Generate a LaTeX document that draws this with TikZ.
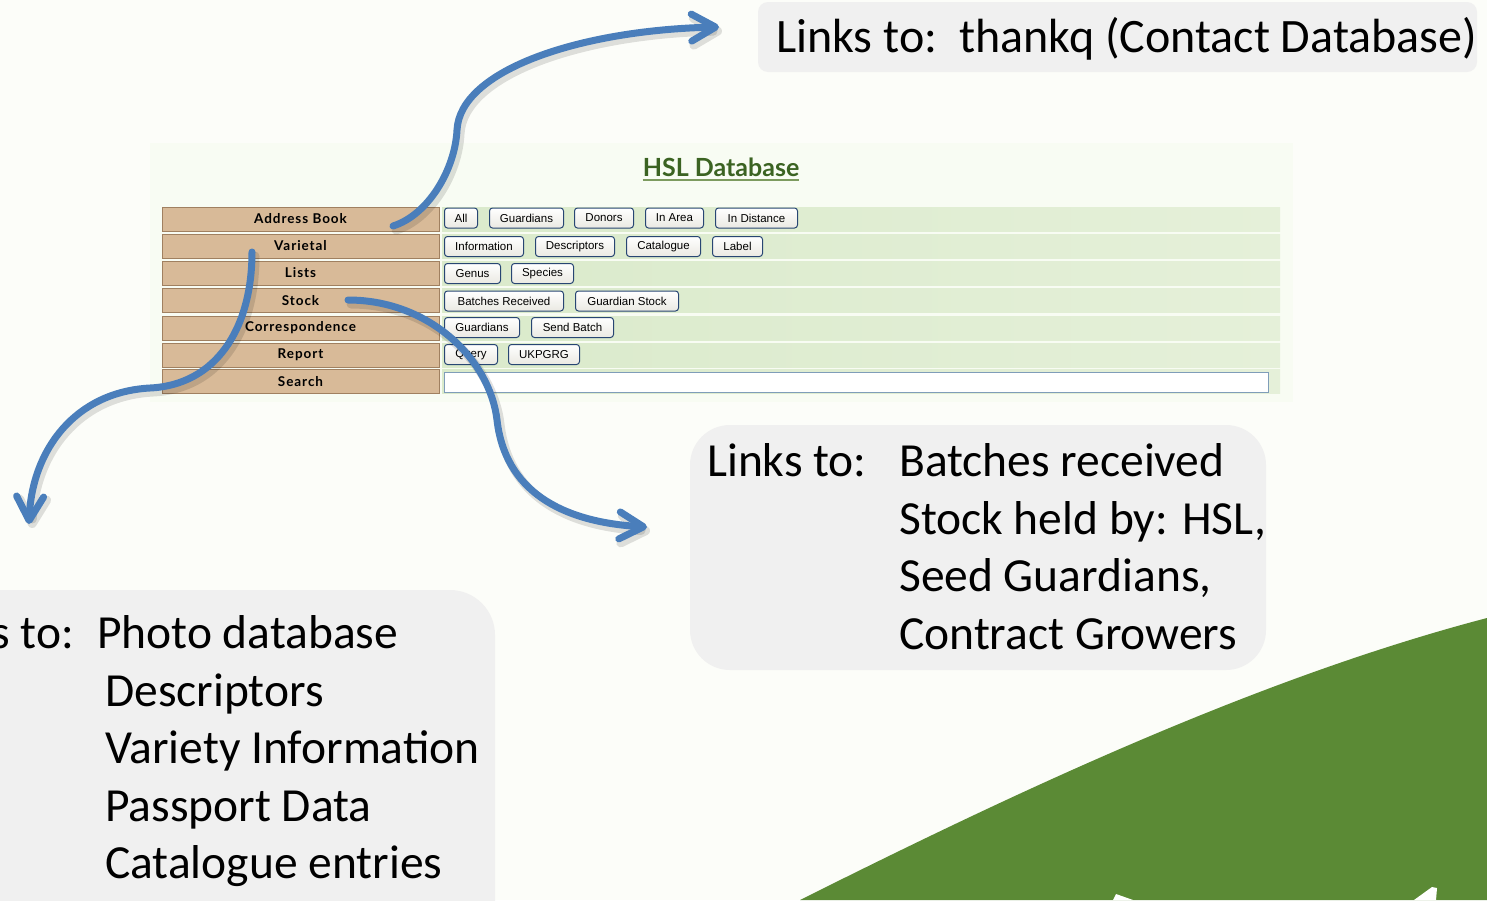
\documentclass[tikz,border=0pt]{standalone}
\usepackage{fontspec}
\setmainfont{Carlito}
\newfontfamily\menufont[LetterSpace=7]{Lato}
\newfontfamily\btnfont{Liberation Sans}
\newfontfamily\titlefont{Lato}
\usetikzlibrary{arrows.meta,calc}
\definecolor{bgc}{RGB}{252,253,249}
\definecolor{shotbg}{RGB}{248,252,243}
\definecolor{boxgray}{RGB}{240,240,240}
\definecolor{menutan}{RGB}{216,186,152}
\definecolor{tanborder}{RGB}{160,128,96}
\definecolor{rowL}{RGB}{218,234,203}
\definecolor{rowR}{RGB}{229,240,217}
\definecolor{btnborder}{RGB}{40,70,115}
\definecolor{btnbot}{RGB}{234,233,226}
\definecolor{fieldborder}{RGB}{127,157,185}
\definecolor{arrowblue}{RGB}{74,126,187}
\definecolor{leaf}{RGB}{91,138,53}
\definecolor{titlegreen}{RGB}{59,99,34}
\definecolor{titleline}{RGB}{125,155,95}
\tikzset{
  menucell/.style={draw=tanborder, line width=1pt, fill=menutan, minimum width=277pt, minimum height=24pt, inner sep=0pt, font=\menufont\bfseries\fontsize{13.5}{13.5}\selectfont},
  rowbar/.style={left color=rowL, right color=rowR, draw=none, minimum width=838pt, minimum height=24pt, inner sep=0pt},
  btn/.style={draw=btnborder, line width=1pt, rounded corners=3pt, top color=white, bottom color=btnbot, minimum height=20pt, minimum width=#1, inner sep=0pt, anchor=west, font=\btnfont\fontsize{11.5}{12}\selectfont},
  field/.style={draw=fieldborder, line width=1pt, fill=white, minimum width=824pt, minimum height=20pt, inner sep=0pt},
  callout/.style={fill=boxgray, draw=none, inner sep=0pt},
  txt/.style={inner sep=0pt, anchor=base west, font=\fontsize{47.5}{57.5}\selectfont},
  bluearrow/.style={draw=arrowblue, line width=7pt, line cap=round, -{Straight Barb[length=24pt,width=27pt,round]}},
  arrowshadow/.style={draw=black, opacity=0.12, line width=9pt, line cap=round, -{Straight Barb[length=24pt,width=27pt,round]}, transform canvas={shift={(3pt,-4pt)}}}
}
\begin{document}
\begin{tikzpicture}[x=1pt,y=-1pt]
\useasboundingbox (0,0) rectangle (1487,900);
\clip (0,0) rectangle (1487,900);
\fill[bgc] (0,0) rectangle (1487,900);
% green leaf shape
\fill[leaf] (800,900) .. controls (1000,800) and (1250,680) .. (1487,618) -- (1487,900) -- cycle;
\fill[white] (1113,900) -- (1116,894) -- (1133,900) -- cycle;
\fill[white] (1414,900) -- (1432,887) -- (1437,888) -- (1436,900) -- cycle;
% screenshot background
\fill[shotbg] (150,143) rectangle (1293,402);
% title
\node[inner sep=0pt, anchor=base, text=titlegreen, font=\titlefont\bfseries\fontsize{25}{25}\selectfont] (hsl) at (721,176) {HSL Database};
\draw[titleline, line width=1.5pt] ($(hsl.base west)+(0,4)$) -- ($(hsl.base east)+(0,4)$);
% menu rows
\foreach \nm/\lab/\yy in {addr/Address Book/219, vari/Varietal/246, lists/Lists/273, stock/Stock/300.5, corr/Correspondence/328, rep/Report/355, srch/Search/381.5}{
  \node[menucell] (\nm) at (300.5,\yy) {\lab};
  \node[rowbar] (\nm bar) at (861,\yy) {};
}
% buttons row 1
\node[btn=33pt] (bAll) at (444,218) {All};
\node[btn=74pt] (bGuard) at (489,218) {Guardians};
\node[btn=59pt] (bDonors) at (574,218) {Donors};
\node[btn=58pt] (bArea) at (645,218) {In Area};
\node[btn=82pt] (bDist) at (715,218) {In Distance};
% row 2
\node[btn=79pt] (bInfo) at (444,246.5) {Information};
\node[btn=79pt] (bDesc) at (535,246.5) {Descriptors};
\node[btn=74pt] (bCat) at (626,246.5) {Catalogue};
\node[btn=50pt] (bLabel) at (712,246.5) {Label};
% row 3
\node[btn=56pt] (bGenus) at (444,273.5) {Genus};
\node[btn=62pt] (bSpecies) at (511,273.5) {Species};
% row 4
\node[btn=119pt] (bBatch) at (444,301) {Batches Received};
\node[btn=103pt] (bGStock) at (575,301) {Guardian Stock};
% row 5
\node[btn=75pt] (bGuard2) at (444,327.5) {Guardians};
\node[btn=82pt] (bSend) at (531,327.5) {Send Batch};
% row 6
\node[btn=53pt] (bQuery) at (444,354.5) {Query};
\node[btn=71pt] (bUK) at (508,354.5) {UKPGRG};
% search field
\node[field] (sfield) at (856,382) {};
% callout boxes
\node[callout, rounded corners=10pt, minimum width=719pt, minimum height=70pt] (topbox) at (1117.5,37) {};
\node[callout, rounded corners=40pt, minimum width=576pt, minimum height=245pt] (rbox) at (978,547.5) {};
\node[callout, rounded corners=45pt, minimum width=555pt, minimum height=370pt] (lbox) at (217.5,775) {};
% callout texts
\node[txt, font=\fontsize{48}{57.5}\selectfont] (ttop) at (776,52) {Links to:\ \ thankq (Contact Database)};
\node[txt] (r0) at (707,476) {Links to:};
\node[txt] (r1) at (899,476) {Batches received};
\node[txt] (r2) at (899,534) {Stock held by: HSL,};
\node[txt] (r3) at (899,591) {Seed Guardians,};
\node[txt] (r4) at (899,649) {Contract Growers};
\node[txt, anchor=base east] (l0) at (74,648) {Links to:};
\node[txt] (l1) at (97,648) {Photo database};
\node[txt] (l2) at (105,706) {Descriptors};
\node[txt] (l3) at (105,763) {Variety Information};
\node[txt] (l4) at (105,821) {Passport Data};
\node[txt] (l5) at (105,878) {Catalogue entries};
% arrows
\coordinate (a1s) at (393,226);
\coordinate (a1e) at (719,27);
\coordinate (a2s) at (252,252);
\coordinate (a2e) at (29,524);
\coordinate (a3s) at (348,300);
\coordinate (a3e) at (647,527);
\draw[arrowshadow] (a1s) .. controls (428,215) and (455,170) .. (457,130) .. controls (460,70) and (580,30) .. (a1e);
\draw[arrowshadow] (a2s) .. controls (252,330) and (215,385) .. (150,388) .. controls (75,392) and (32,450) .. (a2e);
\draw[arrowshadow] (a3s) .. controls (430,300) and (490,360) .. (497,420) .. controls (505,490) and (560,522) .. (a3e);
\draw[bluearrow] (a1s) .. controls (428,215) and (455,170) .. (457,130) .. controls (460,70) and (580,30) .. (a1e);
\draw[bluearrow] (a2s) .. controls (252,330) and (215,385) .. (150,388) .. controls (75,392) and (32,450) .. (a2e);
\draw[bluearrow] (a3s) .. controls (430,300) and (490,360) .. (497,420) .. controls (505,490) and (560,522) .. (a3e);
\end{tikzpicture}
\end{document}
